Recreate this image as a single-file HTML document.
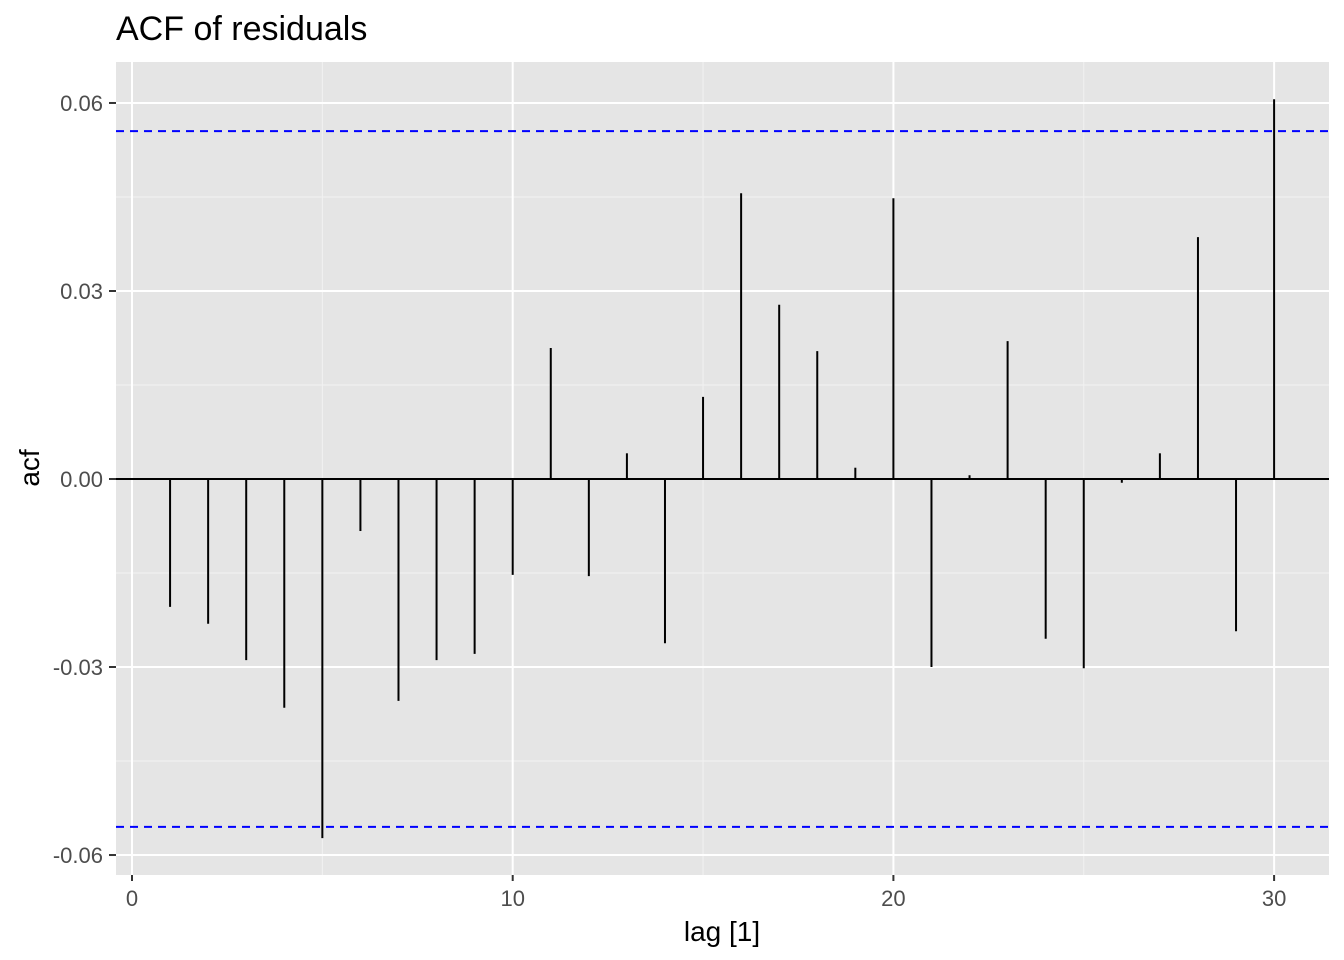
<!DOCTYPE html>
<html><head><meta charset="utf-8"><style>
body{margin:0;background:#fff;}
svg{display:block;font-family:"Liberation Sans",Arial,sans-serif;}
</style></head><body>
<svg id="chart" width="1344" height="960" viewBox="0 0 1344 960">
<text x="116" y="40" font-size="34" fill="#000">ACF of residuals</text>
<rect x="116" y="62" width="1213" height="813" fill="#e5e5e5"/>
<g id="grid"></g>
<g id="marks"></g>
<g id="axes"></g>
<text x="722" y="941" font-size="28" text-anchor="middle" fill="#000">lag [1]</text>
<text transform="translate(39,468) rotate(-90)" font-size="28" text-anchor="middle" fill="#000">acf</text>
</svg>
<script>
const lags=[1,2,3,4,5,6,7,8,9,10,11,12,13,14,15,16,17,18,19,20,21,22,23,24,25,26,27,28,29,30];
const acfValues=[-0.0204,-0.0231,-0.0289,-0.0365,-0.0573,-0.0083,-0.0354,-0.0289,-0.0279,-0.0153,0.0209,-0.0155,0.0041,-0.0262,0.0131,0.0456,0.0278,0.0204,0.0018,0.0448,-0.0300,0.0006,0.0220,-0.0255,-0.0302,-0.0006,0.0041,0.0386,-0.0243,0.0606];
const ciBound=[0.0555];
const xTicks=[0,10,20,30];
const xMinor=[5,15,25];
const yTicks=[-0.06,-0.03,0,0.03,0.06];
const yTickLabels=["-0.06","-0.03","0.00","0.03","0.06"];
const yMinor=[-0.045,-0.015,0.015,0.045];

const NS="http://www.w3.org/2000/svg";
const X=v=>132+v*38.07;
const Y=v=>479-v*6267;
const L=116,R=1329,T=62,B=875;
function mk(tag,attrs,parent){const e=document.createElementNS(NS,tag);for(const k in attrs)e.setAttribute(k,attrs[k]);parent.appendChild(e);return e;}
const grid=document.getElementById('grid'),marks=document.getElementById('marks'),axes=document.getElementById('axes');
xMinor.forEach(v=>{const e=mk('line',{x1:X(v),x2:X(v),y1:T,y2:B,stroke:'#f2f2f2','stroke-width':1},grid);

});
yMinor.forEach(v=>{const e=mk('line',{x1:L,x2:R,y1:Y(v),y2:Y(v),stroke:'#f2f2f2','stroke-width':1},grid);

});
xTicks.forEach(v=>{const e=mk('line',{x1:X(v),x2:X(v),y1:T,y2:B,stroke:'#fff','stroke-width':2},grid);


const t=mk('line',{x1:X(v),x2:X(v),y1:B,y2:B+6,stroke:'#333','stroke-width':2},axes);


const l=mk('text',{x:X(v),y:B+31,'font-size':22,'text-anchor':'middle',fill:'#4d4d4d'},axes);l.textContent=v;

});
yTicks.forEach((v,i)=>{const e=mk('line',{x1:L,x2:R,y1:Y(v),y2:Y(v),stroke:'#fff','stroke-width':2},grid);


const t=mk('line',{x1:L-7,x2:L,y1:Y(v),y2:Y(v),stroke:'#333','stroke-width':2},axes);


const l=mk('text',{x:L-13,y:Y(v)+8,'font-size':22,'text-anchor':'end',fill:'#4d4d4d'},axes);l.textContent=yTickLabels[i];

});
lags.forEach((lg,i)=>{const e=mk('line',{x1:X(lg),x2:X(lg),y1:Y(0),y2:Y(acfValues[i]),stroke:'#000','stroke-width':2},marks);

});
const z=mk('line',{x1:L,x2:R,y1:Y(0),y2:Y(0),stroke:'#000','stroke-width':2},marks);


[ciBound[0],-ciBound[0]].forEach((v,i)=>{const e=mk('line',{x1:L,x2:R,y1:Y(v),y2:Y(v),stroke:'#0000ff','stroke-width':2,'stroke-dasharray':'8,6'},marks);

});
</script>
</body></html>
